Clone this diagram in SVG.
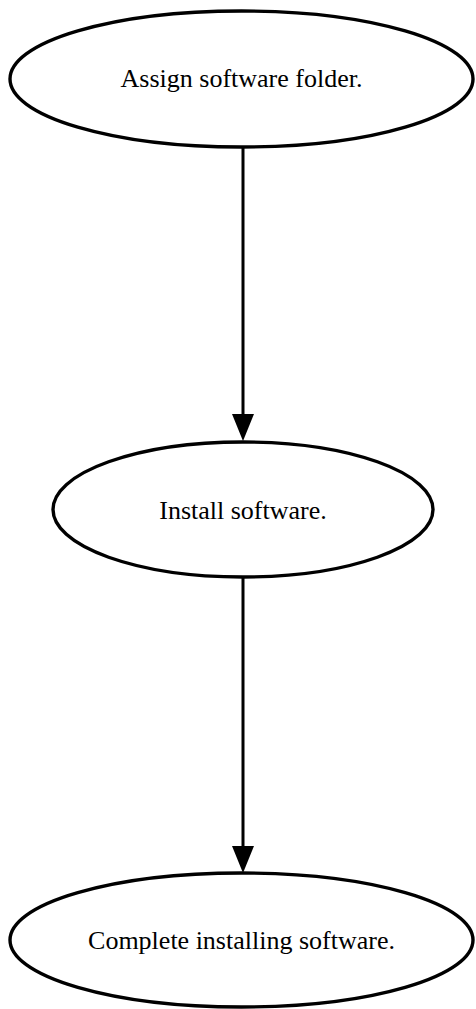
<svg xmlns="http://www.w3.org/2000/svg" width="476" height="1009" viewBox="0 0 476 1009">
  <style>
    .node ellipse { fill: #ffffff; stroke: #000000; stroke-width: 3.4; }
    .node text { font-family: "Liberation Serif", "Times New Roman", serif; font-size: 26px; fill: #000000; text-anchor: middle; }
    .edge { stroke: #000000; stroke-width: 3; fill: none; }
    .head { fill: #000000; }
  </style>
  <rect width="476" height="1009" fill="#ffffff"/>

  <!-- straight top-to-bottom edges with solid triangular heads -->
  <g id="connectors">
    <line class="edge" x1="243" y1="147" x2="243" y2="415"/>
    <polygon class="head" points="232,414 254,414 243,441"/>
    <line class="edge" x1="243" y1="577" x2="243" y2="847"/>
    <polygon class="head" points="232,846 254,846 243,873"/>
  </g>

  <g id="node-assign" class="node">
    <ellipse cx="241.5" cy="79" rx="231.5" ry="68"/>
    <text x="241.5" y="87">Assign software folder.</text>
  </g>

  <g id="node-install" class="node">
    <ellipse cx="243" cy="509.5" rx="190" ry="67.5"/>
    <text x="243" y="519">Install software.</text>
  </g>

  <g id="node-complete" class="node">
    <ellipse cx="241.5" cy="940" rx="231.5" ry="67"/>
    <text x="241.5" y="949">Complete installing software.</text>
  </g>
</svg>
